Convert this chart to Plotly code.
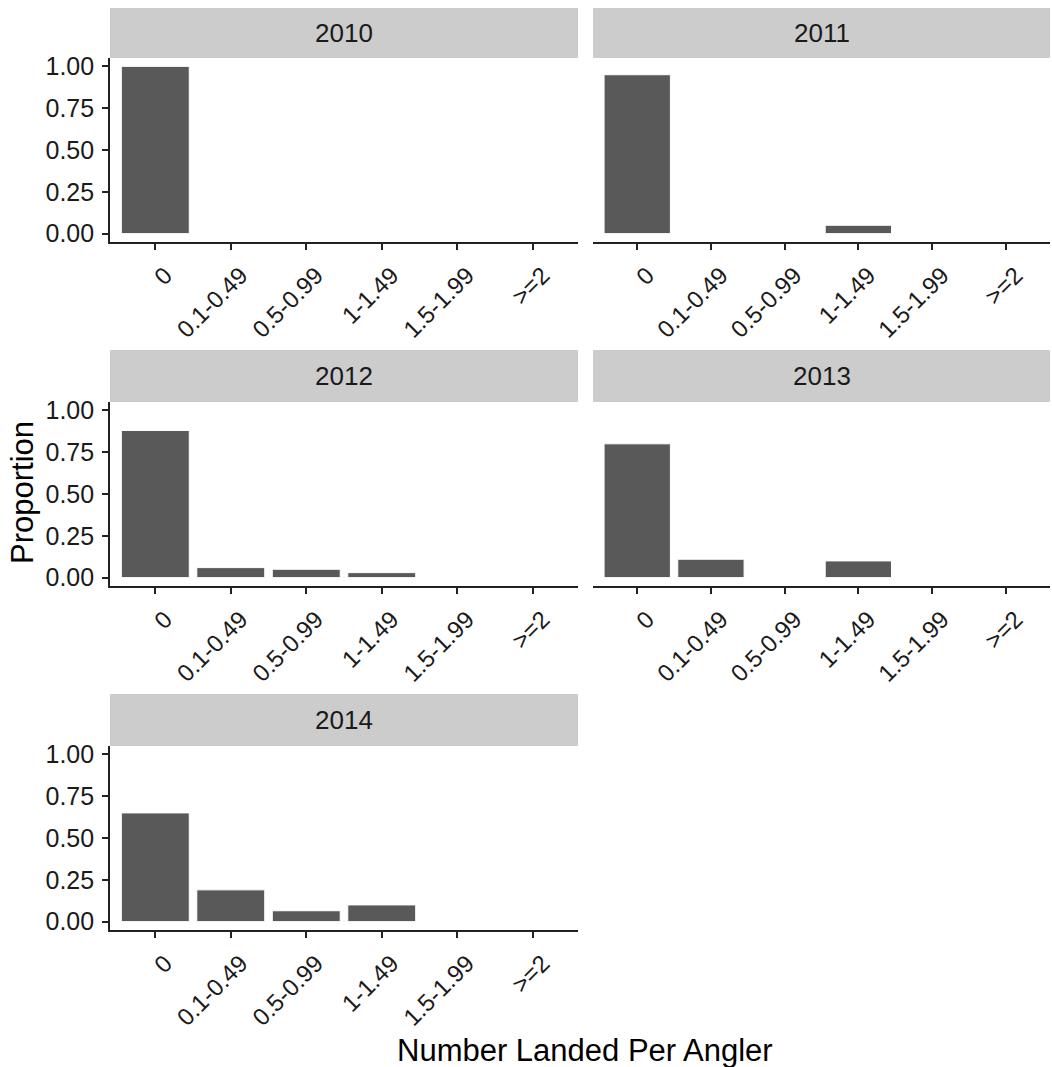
import plotly.graph_objects as go

# Proportion of anglers by number landed, one panel per year
categories = ["0", "0.1-0.49", "0.5-0.99", "1-1.49", "1.5-1.99", ">=2"]
years = ["2010", "2011", "2012", "2013", "2014"]
prop_2010 = [1.00, 0.0, 0.0, 0.0, 0.0, 0.0]
prop_2011 = [0.95, 0.0, 0.0, 0.05, 0.0, 0.0]
prop_2012 = [0.88, 0.06, 0.05, 0.03, 0.0, 0.0]
prop_2013 = [0.80, 0.11, 0.0, 0.10, 0.0, 0.0]
prop_2014 = [0.65, 0.19, 0.065, 0.10, 0.0, 0.0]
y_tick_vals = [0, 0.25, 0.5, 0.75, 1.0]
y_tick_text = ["0.00", "0.25", "0.50", "0.75", "1.00"]

series = [prop_2010, prop_2011, prop_2012, prop_2013, prop_2014]

W, H = 1052, 1067
FONT = "Liberation Sans, Arial, sans-serif"
TEXT = "#1a1a1a"
AXIS = "#222222"

# panel geometry in pixels: (left, right) per column, (strip_top, panel_top, panel_bottom) per row
cols = [(110, 578), (593, 1050)]
rows = [(8, 58, 242), (350, 402, 586), (694, 746, 930)]


def px_x(v):
    return v / W


def px_y(v):
    return 1 - v / H


fig = go.Figure()
shapes = []
annotations = []

for i, (year, vals) in enumerate(zip(years, series)):
    r, c = divmod(i, 2)
    x0, x1 = cols[c]
    s_top, p_top, p_bot = rows[r]
    n = i + 1
    xa = "x" if n == 1 else f"x{n}"
    ya = "y" if n == 1 else f"y{n}"
    fig.add_trace(go.Bar(
        x=categories, y=vals, xaxis=xa, yaxis=ya, width=0.9,
        marker=dict(color="#595959", line=dict(color="white", width=1)),
        showlegend=False, hoverinfo="x+y",
    ))
    left = c == 0
    fig.layout[f"xaxis{'' if n == 1 else n}"] = dict(
        domain=[px_x(x0), px_x(x1)], anchor=ya, type="category",
        categoryorder="array", categoryarray=categories,
        range=[-0.6, 5.6], showline=True, linecolor=AXIS, linewidth=1.6,
        ticks="outside", ticklen=6, tickwidth=1.6, tickcolor=AXIS,
        tickangle=-45, ticklabelshift=10, ticklabelstandoff=2,
        tickfont=dict(size=24, color=TEXT, family=FONT),
        showgrid=False, zeroline=False, automargin=False, fixedrange=True,
    )
    fig.layout[f"yaxis{'' if n == 1 else n}"] = dict(
        domain=[px_y(p_bot), px_y(p_top)], anchor=xa,
        range=[-0.05, 1.05], tickvals=y_tick_vals, ticktext=y_tick_text,
        showline=left, linecolor=AXIS, linewidth=1.6,
        ticks="outside" if left else "", ticklen=6, tickwidth=1.6, tickcolor=AXIS,
        showticklabels=left, ticklabelstandoff=3,
        tickfont=dict(size=25, color=TEXT, family=FONT),
        showgrid=False, zeroline=False, automargin=False, fixedrange=True,
    )
    # facet strip
    shapes.append(dict(
        type="rect", xref="paper", yref="paper",
        x0=px_x(x0), x1=px_x(x1), y0=px_y(p_top), y1=px_y(s_top),
        fillcolor="#cccccc", line=dict(width=0), layer="below",
    ))
    annotations.append(dict(
        text=year, xref="paper", yref="paper",
        x=px_x((x0 + x1) / 2), y=px_y((s_top + p_top) / 2),
        xanchor="center", yanchor="middle", showarrow=False,
        font=dict(size=26, color=TEXT, family=FONT),
    ))

annotations.append(dict(
    text="Number Landed Per Angler", xref="paper", yref="paper",
    x=px_x(585), y=px_y(1050), xanchor="center", yanchor="middle",
    showarrow=False, font=dict(size=31, color="black", family=FONT),
))
annotations.append(dict(
    text="Proportion", xref="paper", yref="paper",
    x=px_x(23), y=px_y(493), xanchor="center", yanchor="middle",
    textangle=-90, showarrow=False, font=dict(size=31, color="black", family=FONT),
))

fig.update_layout(
    width=W, height=H, margin=dict(l=0, r=0, t=0, b=0),
    paper_bgcolor="white", plot_bgcolor="white",
    shapes=shapes, annotations=annotations, bargap=0.1,
    font=dict(family=FONT),
)

fig.write_html("out.html")
